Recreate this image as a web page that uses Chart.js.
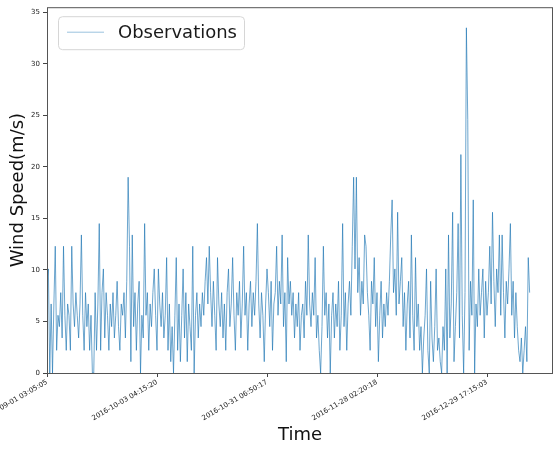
<!DOCTYPE html>
<html>
<head>
<meta charset="utf-8">
<script src="https://cdn.jsdelivr.net/npm/chart.js@4"></script>
<style>
    html, body { margin: 0; padding: 0; background: #fff; }
    #wrap { width: 559px; height: 449px; position: relative; }
</style>
</head>
<body>
<div id="wrap"><canvas id="windChart" width="559" height="449"></canvas></div>
<script>
// observed wind speed (m/s), one value per sample
const windSpeed = [
    8.9, 10.1, 0, 6.7, 0, 6.7, 12.3, 2.2, 5.6, 4.5, 7.8, 3.4, 12.3, 5.6, 2.2, 6.7,
    5.6, 2.2, 12.3, 6.7, 4.5, 7.8, 5.6, 3.4, 6.7, 13.4, 5.6, 2.2, 7.8, 4.5, 6.7, 2.2,
    5.6, 0, 0, 7.8, 2.2, 6.7, 14.5, 2.2, 7.8, 10.1, 3.4, 7.8, 5.6, 2.2, 6.7, 4.5,
    7.8, 3.4, 5.6, 8.9, 4.5, 2.2, 6.7, 5.6, 7.8, 3.4, 8.9, 19.0, 12.3, 1.1, 13.4, 4.5,
    7.8, 2.2, 6.7, 8.9, 0, 5.6, 3.4, 14.5, 5.6, 7.8, 2.2, 6.7, 4.5, 7.8, 10.1, 5.6,
    2.2, 10.1, 6.7, 4.5, 7.8, 3.4, 5.6, 11.2, 2.2, 6.7, 1.1, 4.5, 0, 5.6, 11.2, 2.2,
    6.7, 1.1, 5.6, 10.1, 3.4, 7.8, 1.1, 6.7, 4.5, 2.2, 12.3, 0, 5.6, 7.8, 3.4, 6.7,
    4.5, 7.8, 5.6, 8.9, 11.2, 6.7, 12.3, 7.8, 4.5, 8.9, 5.6, 2.2, 11.2, 6.7, 4.5, 7.8,
    3.4, 6.7, 2.2, 7.8, 10.1, 4.5, 6.7, 11.2, 5.6, 2.2, 7.8, 5.6, 8.9, 3.4, 6.7, 12.3,
    5.6, 7.8, 2.2, 6.7, 8.9, 4.5, 7.8, 5.6, 8.9, 14.5, 6.7, 3.4, 7.8, 5.6, 1.1, 6.7,
    10.1, 7.8, 4.5, 8.9, 2.2, 6.7, 7.8, 12.3, 5.6, 8.9, 6.7, 13.4, 4.5, 7.8, 1.1, 11.2,
    6.7, 8.9, 5.6, 7.8, 3.4, 6.7, 4.5, 7.8, 2.2, 5.6, 6.7, 3.4, 8.9, 5.6, 13.4, 6.7,
    4.5, 7.8, 5.6, 11.2, 3.4, 5.6, 2.2, 0, 4.5, 12.3, 5.6, 7.8, 3.4, 6.7, 0, 5.6,
    7.8, 3.4, 6.7, 4.5, 8.9, 2.2, 5.6, 14.5, 4.5, 7.8, 2.2, 6.7, 8.9, 5.6, 12.3, 19.0,
    10.1, 19.0, 7.8, 11.2, 5.6, 8.9, 6.7, 13.4, 12.3, 7.8, 5.6, 2.2, 8.9, 6.7, 11.2, 4.5,
    7.8, 1.1, 5.6, 8.9, 3.4, 6.7, 4.5, 7.8, 5.6, 8.9, 13.4, 16.8, 7.8, 10.1, 5.6, 15.6,
    6.7, 8.9, 11.2, 4.5, 7.8, 2.2, 6.7, 8.9, 3.4, 13.4, 5.6, 2.2, 11.2, 4.5, 6.7, 2.2,
    4.5, 0, 3.4, 5.6, 10.1, 2.2, 0, 8.9, 3.4, 1.1, 4.5, 10.1, 2.2, 3.4, 1.1, 0,
    4.5, 2.2, 10.1, 0, 13.4, 3.4, 6.7, 15.6, 1.1, 4.5, 7.8, 14.5, 3.4, 21.2, 5.6, 0,
    7.8, 33.5, 24.6, 2.2, 8.9, 5.6, 16.8, 0, 6.7, 4.5, 10.1, 5.6, 7.8, 10.1, 3.4, 8.9,
    5.6, 7.8, 12.3, 6.7, 15.6, 8.9, 4.5, 10.1, 7.8, 13.4, 5.6, 13.4, 7.8, 3.4, 8.9, 6.7,
    10.1, 14.5, 5.6, 8.9, 3.4, 7.8, 4.5, 2.2, 1.1, 3.4, 0, 2.2, 4.5, 1.1, 11.2, 7.8
];

// sample index of each labelled tick and its timestamp
const xTickIdx = [0, 80, 160, 240, 320];
const xTickLabels = [
    '2016-09-01 03:05:05',
    '2016-10-03 04:15:20',
    '2016-10-31 06:50:17',
    '2016-11-28 02:20:18',
    '2016-12-29 17:15:03'
];
const yTicks = [0, 5, 10, 15, 20, 25, 30, 35];

const lineColor = 'rgba(31, 119, 180, 0.65)';
const fontFamily = '"DejaVu Sans", sans-serif';

// top/right spines plus the legend box in the upper left of the plot
const framePlugin = {
    id: 'frame',
    afterDraw(chart) {
        const { ctx, chartArea } = chart;
        ctx.save();
        ctx.strokeStyle = '#555';
        ctx.lineWidth = 1;
        ctx.strokeRect(chartArea.left + 0.5, chartArea.top + 0.5,
            chartArea.right - chartArea.left - 1, chartArea.bottom - chartArea.top);

        const bx = chartArea.left + 11;
        const by = chartArea.top + 9;
        ctx.beginPath();
        ctx.roundRect(bx + 0.5, by + 0.5, 186, 33, 4);
        ctx.fillStyle = 'rgba(255, 255, 255, 0.8)';
        ctx.fill();
        ctx.strokeStyle = '#d6d6d6';
        ctx.stroke();

        ctx.beginPath();
        ctx.moveTo(bx + 9, by + 16);
        ctx.lineTo(bx + 46, by + 16);
        ctx.strokeStyle = 'rgba(31, 119, 180, 0.45)';
        ctx.lineWidth = 1;
        ctx.stroke();

        ctx.fillStyle = '#1a1a1a';
        ctx.font = '18px ' + fontFamily;
        ctx.textBaseline = 'middle';
        ctx.fillText(chart.data.datasets[0].label, bx + 60, by + 17);
        ctx.restore();
    }
};

new Chart(document.getElementById('windChart'), {
    type: 'line',
    data: {
        datasets: [{
            label: 'Observations',
            data: windSpeed.map((v, i) => ({ x: i, y: v })),
            borderColor: lineColor,
            borderWidth: 1,
            pointRadius: 0,
            tension: 0,
            fill: false
        }]
    },
    options: {
        responsive: false,
        animation: false,
        layout: {
            autoPadding: false,
            padding: { top: 4, right: 6, left: 0, bottom: 0 }
        },
        plugins: {
            legend: { display: false },
            tooltip: { enabled: false }
        },
        scales: {
            x: {
                type: 'linear',
                min: 0,
                max: 368,
                afterBuildTicks: (scale) => {
                    scale.ticks = xTickIdx.map((v) => ({ value: v }));
                },
                afterFit: (scale) => {
                    scale.height = 76;
                    // let the first rotated label run off the left edge
                    scale.paddingLeft = 0;
                    scale.paddingRight = 0;
                },
                grid: {
                    drawOnChartArea: false,
                    drawTicks: true,
                    tickLength: 4,
                    color: '#444'
                },
                border: { display: false },
                ticks: {
                    autoSkip: false,
                    minRotation: 30,
                    maxRotation: 30,
                    padding: 1,
                    color: '#222',
                    font: { family: fontFamily, size: 7 },
                    callback: (value) => xTickLabels[xTickIdx.indexOf(value)]
                },
                title: {
                    display: true,
                    text: 'Time',
                    color: '#111',
                    font: { family: fontFamily, size: 18 },
                    padding: { top: 0, bottom: 3 }
                }
            },
            y: {
                min: 0,
                max: 35.5,
                afterBuildTicks: (scale) => {
                    scale.ticks = yTicks.map((v) => ({ value: v }));
                },
                afterFit: (scale) => {
                    scale.width = 47;
                },
                grid: {
                    drawOnChartArea: false,
                    drawTicks: true,
                    tickLength: 4,
                    color: '#444'
                },
                border: { display: false },
                ticks: {
                    padding: 3,
                    color: '#222',
                    font: { family: fontFamily, size: 7 }
                },
                title: {
                    display: true,
                    text: 'Wind Speed(m/s)',
                    color: '#111',
                    font: { family: fontFamily, size: 18 },
                    padding: { top: 8, bottom: 0 }
                }
            }
        }
    },
    plugins: [framePlugin]
});
</script>
</body>
</html>
